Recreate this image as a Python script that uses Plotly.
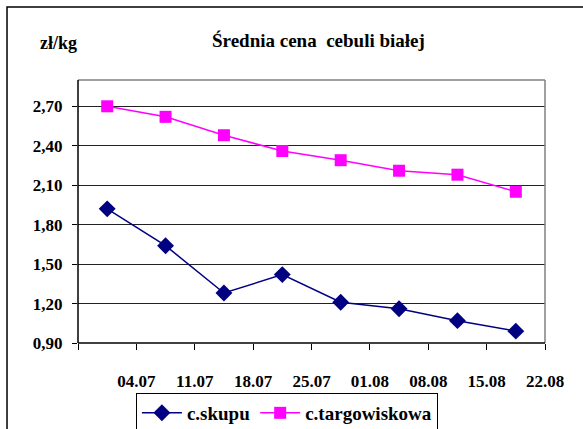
import plotly.graph_objects as go

weeks = ['04.07', '11.07', '18.07', '25.07', '01.08', '08.08', '15.08', '22.08']
skupu = [1.92, 1.64, 1.28, 1.42, 1.21, 1.16, 1.07, 0.99]
targowiskowa = [2.70, 2.62, 2.48, 2.36, 2.29, 2.21, 2.18, 2.05]
y_ticks = [0.90, 1.20, 1.50, 1.80, 2.10, 2.40, 2.70]

font_fam = 'Liberation Serif, Liberation Sans, sans-serif'
pos = list(range(len(skupu)))

fig = go.Figure()
fig.add_trace(go.Scatter(
    x=pos, y=skupu, name='<b>c.skupu</b>', mode='lines+markers',
    line=dict(color='#000080', width=1.5),
    marker=dict(symbol='diamond', size=13, color='#000080'),
))
fig.add_trace(go.Scatter(
    x=pos, y=targowiskowa, name='<b>c.targowiskowa</b>', mode='lines+markers',
    line=dict(color='#FF00FF', width=1.5),
    marker=dict(symbol='square', size=12, color='#FF00FF'),
))

# labels sit at category boundaries, like in the original sheet
tick_pos = [p + 0.5 for p in pos]
# figure is a bit taller than the window so the legend box runs off the bottom
fig.update_layout(
    width=583, height=445,
    margin=dict(l=78, r=38, t=80, b=102),
    paper_bgcolor='#FFFFFF', plot_bgcolor='#FFFFFF',
    font=dict(family=font_fam, size=17, color='#000000'),
    showlegend=True,
    legend=dict(
        orientation='h', x=0.124, y=-0.19, xanchor='left', yanchor='top',
        bordercolor='#000000', borderwidth=1, bgcolor='#FFFFFF',
        font=dict(family=font_fam, size=19, color='#000000'),
        itemwidth=40, tracegroupgap=0,
    ),
    xaxis=dict(
        range=[-0.5, 7.5], tickmode='array',
        tickvals=[-0.5] + tick_pos, ticktext=[''] + ['<b>%s</b>' % w for w in weeks],
        ticks='outside', ticklen=6, tickcolor='#000000',
        showgrid=False, zeroline=False, showline=False,
        ticklabelstandoff=17,
        tickfont=dict(family=font_fam, size=17),
    ),
    yaxis=dict(
        range=[0.9, 2.9], tickmode='array', tickvals=y_ticks,
        ticktext=['<b>%s</b>' % ('%.2f' % v).replace('.', ',') for v in y_ticks],
        ticks='outside', ticklen=5, tickcolor='#000000',
        showgrid=True, gridcolor='#222222', gridwidth=1,
        zeroline=False, showline=False,
        ticklabelstandoff=6,
        tickfont=dict(family=font_fam, size=17),
    ),
)

# plot frame: gray top/right, black left/bottom
fig.add_shape(type='line', xref='paper', yref='paper', x0=0, x1=1, y0=1, y1=1,
              line=dict(color='#808080', width=1.5))
fig.add_shape(type='line', xref='paper', yref='paper', x0=1, x1=1, y0=0, y1=1,
              line=dict(color='#808080', width=1.5))
fig.add_shape(type='line', xref='paper', yref='paper', x0=0, x1=0, y0=0, y1=1,
              line=dict(color='#000000', width=1.5))
fig.add_shape(type='line', xref='paper', yref='paper', x0=0, x1=1, y0=0, y1=0,
              line=dict(color='#000000', width=1.5))
# outer chart border (runs off the picture on the right and bottom)
fig.add_shape(type='rect', xref='paper', yref='paper', x0=-0.152, x1=1.2, y0=-0.6, y1=1.278,
              line=dict(color='#000000', width=1.5), layer='below')

fig.add_annotation(text='<b>Średnia cena  cebuli białej</b>', xref='paper', yref='paper',
                   x=0.516, y=1.152, xanchor='center', yanchor='middle', showarrow=False,
                   font=dict(family=font_fam, size=19, color='#000000'))
fig.add_annotation(text='<b>zł/kg</b>', xref='paper', yref='paper',
                   x=-0.041, y=1.141, xanchor='center', yanchor='middle', showarrow=False,
                   font=dict(family=font_fam, size=18, color='#000000'))

fig.write_html('out.html', config={'displayModeBar': False},
               post_script="document.body.style.margin='0px';document.body.style.overflow='hidden';")
